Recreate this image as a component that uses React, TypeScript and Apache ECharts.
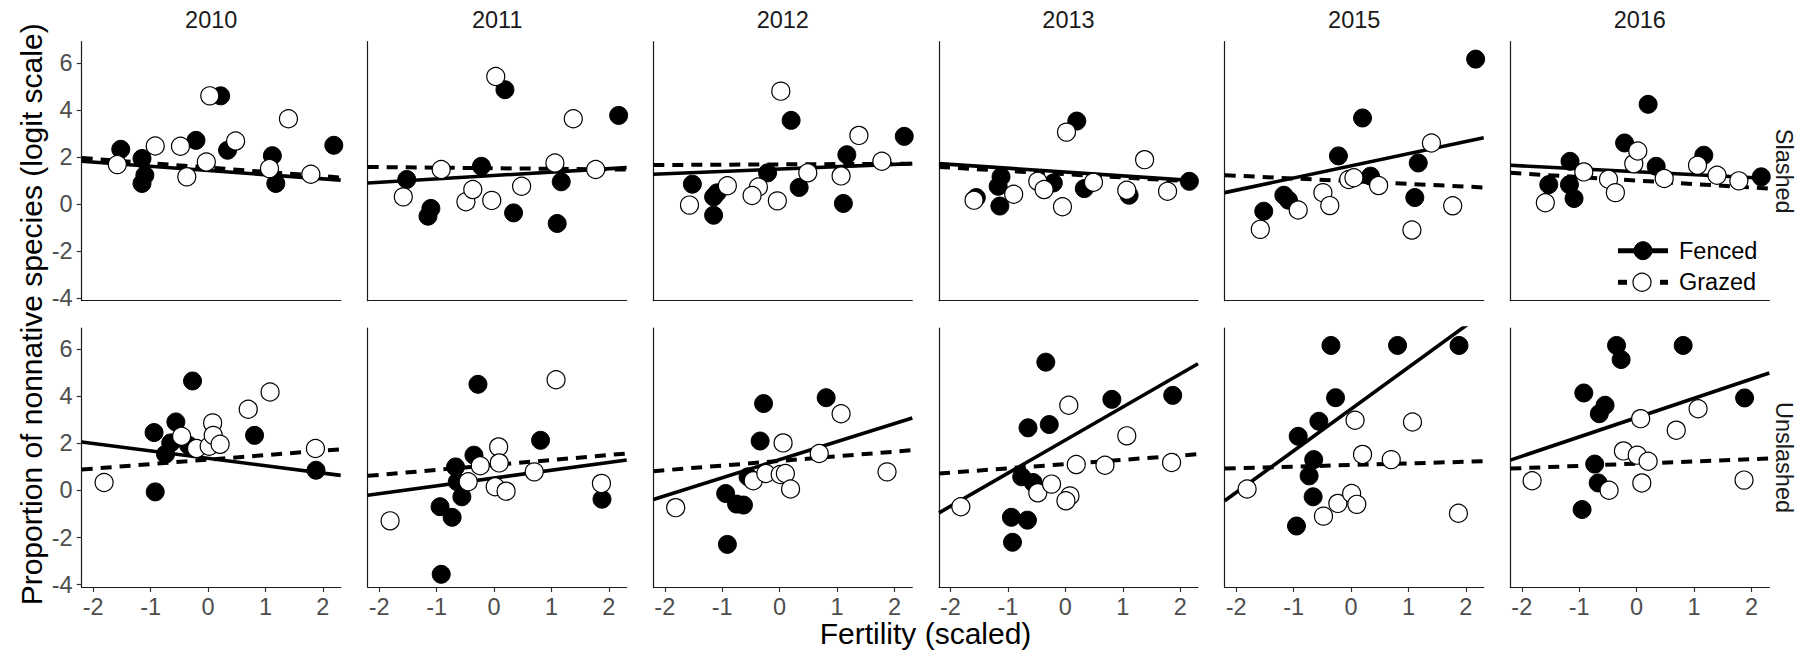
import React, { useEffect, useRef } from 'react';
import * as echarts from 'echarts';

// ---------- data ----------
const years = ['2010', '2011', '2012', '2013', '2015', '2016'];
const rowLabels = ['Slashed', 'Unslashed'];
const xTicks = [-2, -1, 0, 1, 2];
const yTicks = [-4, -2, 0, 2, 4, 6];
const xMin = -2.2;
const xMax = 2.31;
const yMin = -4.1;
const yMax = 6.9;

const slashedFenced2010 = [[-1.52,2.33],[-1.15,1.94],[-1.10,1.23],[-1.15,0.88],[-0.21,2.71],[0.22,4.6],[0.34,2.29],[1.12,2.06],[1.18,0.88],[2.19,2.5]];
const slashedGrazed2010 = [[-1.58,1.68],[-0.92,2.47],[-0.48,2.46],[-0.37,1.16],[-0.03,1.79],[0.03,4.6],[0.48,2.68],[1.07,1.51],[1.40,3.63],[1.79,1.27]];
const slashedFenced2011 = [[-1.52,1.05],[-1.10,-0.18],[-1.15,-0.51],[-0.22,1.61],[0.19,4.86],[0.34,-0.37],[1.17,0.95],[1.10,-0.82],[2.17,3.77]];
const slashedGrazed2011 = [[-1.58,0.31],[-0.92,1.47],[-0.49,0.10],[-0.37,0.62],[-0.04,0.16],[0.03,5.42],[0.48,0.76],[1.06,1.75],[1.38,3.63],[1.77,1.47]];
const slashedFenced2012 = [[-1.52,0.85],[-1.15,0.31],[-1.09,0.48],[-1.15,-0.47],[-0.21,1.33],[0.20,3.56],[0.34,0.71],[1.17,2.10],[1.11,0.03],[2.17,2.88]];
const slashedGrazed2012 = [[-1.57,-0.04],[-0.91,0.78],[-0.37,0.73],[-0.48,0.37],[-0.04,0.14],[0.02,4.8],[0.49,1.33],[1.07,1.20],[1.38,2.92],[1.78,1.82]];
const slashedFenced2013 = [[-1.55,0.28],[-1.12,1.16],[-1.17,0.76],[-1.14,-0.08],[-0.21,0.9],[0.20,3.53],[0.33,0.66],[1.11,0.38],[2.16,0.97]];
const slashedGrazed2013 = [[-1.59,0.17],[-0.90,0.42],[-0.48,0.97],[-0.37,0.62],[-0.05,-0.11],[0.02,3.06],[0.49,0.93],[1.07,0.59],[1.38,1.89],[1.78,0.55]];
const slashedFenced2015 = [[-1.52,-0.30],[-1.17,0.38],[-1.09,0.17],[-0.22,2.05],[0.20,3.66],[0.34,1.19],[1.17,1.75],[1.11,0.28],[2.17,6.16]];
const slashedGrazed2015 = [[-1.58,-1.07],[-0.92,-0.25],[-0.49,0.49],[-0.37,-0.06],[-0.04,1.05],[0.05,1.12],[0.48,0.79],[1.06,-1.10],[1.40,2.60],[1.77,-0.07]];
const slashedFenced2016 = [[-1.53,0.83],[-1.16,1.82],[-1.17,0.83],[-1.09,0.24],[-0.21,2.60],[0.20,4.24],[0.34,1.61],[1.17,2.08],[2.17,1.16]];
const slashedGrazed2016 = [[-1.59,0.06],[-0.92,1.37],[-0.49,1.06],[-0.37,0.49],[-0.05,1.72],[0.02,2.26],[0.48,1.09],[1.06,1.65],[1.40,1.23],[1.78,0.99]];

const unslashedFenced2010 = [[-0.94,2.46],[-0.92,-0.06],[-0.27,4.65],[-0.56,2.91],[-0.65,2.02],[-0.74,1.54],[-0.34,1.92],[0.81,2.34],[1.88,0.86]];
const unslashedGrazed2010 = [[-1.81,0.34],[-0.46,2.30],[-0.20,1.78],[0.02,1.88],[0.08,2.87],[0.09,2.34],[0.21,1.96],[0.70,3.45],[1.08,4.18],[1.87,1.78]];
const unslashedFenced2011 = [[-0.28,4.51],[-0.35,1.50],[-0.67,1.00],[-0.64,0.37],[-0.56,-0.27],[-0.94,-0.69],[-0.73,-1.14],[-0.92,-3.56],[0.81,2.13],[1.88,-0.37]];
const unslashedGrazed2011 = [[-1.81,-1.29],[-0.45,0.37],[-0.24,1.05],[0.08,1.85],[0.09,1.17],[0.02,0.16],[0.21,-0.03],[0.70,0.79],[1.08,4.70],[1.87,0.30]];
const unslashedFenced2012 = [[-0.28,3.69],[-0.34,2.10],[-0.55,0.58],[-0.94,-0.13],[-0.75,-0.58],[-0.63,-0.62],[-0.91,-2.29],[0.81,3.94]];
const unslashedGrazed2012 = [[-1.81,-0.73],[-0.46,0.41],[-0.24,0.72],[0.01,0.68],[0.10,0.72],[0.06,2.02],[0.19,0.06],[0.69,1.57],[1.07,3.26],[1.87,0.79]];
const unslashedFenced2013 = [[-0.34,5.45],[-0.65,2.66],[-0.28,2.80],[-0.76,0.58],[-0.56,0.34],[-0.94,-1.14],[-0.66,-1.26],[-0.92,-2.20],[0.81,3.87],[1.87,4.04]];
const unslashedGrazed2013 = [[-1.82,-0.69],[-0.48,-0.10],[-0.24,0.27],[0.08,-0.23],[0.01,-0.44],[0.06,3.62],[0.19,1.10],[0.69,1.07],[1.07,2.32],[1.85,1.19]];
const unslashedFenced2015 = [[-0.35,6.16],[0.81,6.16],[1.88,6.16],[-0.27,3.94],[-0.56,2.94],[-0.92,2.30],[-0.65,1.31],[-0.73,0.62],[-0.66,-0.27],[-0.95,-1.51]];
const unslashedGrazed2015 = [[-1.81,0.06],[-0.48,-1.09],[-0.23,-0.55],[0.01,-0.13],[0.10,-0.59],[0.07,2.98],[0.20,1.53],[0.70,1.31],[1.07,2.91],[1.87,-0.97]];
const unslashedFenced2016 = [[-0.35,6.16],[-0.27,5.56],[0.81,6.16],[-0.92,4.14],[-0.55,3.62],[-0.65,3.26],[1.88,3.93],[-0.73,1.12],[-0.67,0.32],[-0.95,-0.81]];
const unslashedGrazed2016 = [[-1.82,0.41],[-0.48,0.01],[-0.23,1.68],[0.01,1.50],[0.20,1.24],[0.09,0.32],[0.07,3.05],[0.69,2.56],[1.07,3.47],[1.87,0.44]];

// fitted line: [y at xMin, y at xMax] per year
const fitFencedSlashed = [[1.82,1.02],[0.90,1.55],[1.27,1.72],[1.72,0.99],[0.49,2.82],[1.65,1.09]];
const fitGrazedSlashed = [[1.96,1.13],[1.58,1.47],[1.66,1.72],[1.58,0.95],[1.23,0.71],[1.33,0.66]];
const fitFencedUnslashed = [[2.06,0.64],[-0.20,1.29],[-0.38,3.08],[-0.95,5.38],[-0.44,7.55],[1.29,4.99]];
const fitGrazedUnslashed = [[0.89,1.75],[0.62,1.57],[0.82,1.71],[0.72,1.54],[0.93,1.24],[0.93,1.36]];

const fencedPoints = [
  [slashedFenced2010, slashedFenced2011, slashedFenced2012, slashedFenced2013, slashedFenced2015, slashedFenced2016],
  [unslashedFenced2010, unslashedFenced2011, unslashedFenced2012, unslashedFenced2013, unslashedFenced2015, unslashedFenced2016],
];
const grazedPoints = [
  [slashedGrazed2010, slashedGrazed2011, slashedGrazed2012, slashedGrazed2013, slashedGrazed2015, slashedGrazed2016],
  [unslashedGrazed2010, unslashedGrazed2011, unslashedGrazed2012, unslashedGrazed2013, unslashedGrazed2015, unslashedGrazed2016],
];
const fitsFenced = [fitFencedSlashed, fitFencedUnslashed];
const fitsGrazed = [fitGrazedSlashed, fitGrazedUnslashed];

// ---------- layout ----------
const W = 1798;
const H = 656;
const panelLefts = [81.7, 367.7, 653.3, 939, 1224.7, 1510.3];
const panelTops = [41.7, 328];
const panelW = 259;
const panelH = 259;
const FONT = '"Liberation Sans", Arial, sans-serif';
const SMALL = 23.5;
const BIG = 30;

export default function App() {
  const ref = useRef<HTMLDivElement>(null);

  useEffect(() => {
    if (!ref.current) return;
    const chart = echarts.init(ref.current, null, { renderer: 'svg' });

    const grid: any[] = [];
    const xAxis: any[] = [];
    const yAxis: any[] = [];
    const series: any[] = [];

    for (let r = 0; r < 2; r++) {
      for (let c = 0; c < 6; c++) {
        const idx = r * 6 + c;
        grid.push({ left: panelLefts[c], top: panelTops[r], width: panelW, height: panelH });
        xAxis.push({
          gridIndex: idx,
          type: 'value',
          min: xMin,
          max: xMax,
          axisLine: { show: true, onZero: false, lineStyle: { color: '#1a1a1a', width: 1.2 } },
          axisTick: { show: r === 1, length: 5, customValues: xTicks, lineStyle: { color: '#333', width: 1.2 } },
          axisLabel: {
            show: r === 1,
            customValues: xTicks,
            margin: 8,
            color: '#4d4d4d',
            fontSize: SMALL,
            fontFamily: FONT,
          },
          splitLine: { show: false },
        });
        yAxis.push({
          gridIndex: idx,
          type: 'value',
          min: yMin,
          max: yMax,
          axisLine: { show: true, onZero: false, lineStyle: { color: '#1a1a1a', width: 1.2 } },
          axisTick: { show: c === 0, length: 5, customValues: yTicks, lineStyle: { color: '#333', width: 1.2 } },
          axisLabel: {
            show: c === 0,
            customValues: yTicks,
            margin: 9,
            color: '#4d4d4d',
            fontSize: SMALL,
            fontFamily: FONT,
          },
          splitLine: { show: false },
        });

        const ff = fitsFenced[r][c];
        const fg = fitsGrazed[r][c];
        series.push({
          type: 'line',
          xAxisIndex: idx,
          yAxisIndex: idx,
          data: [[xMin, fg[0]], [xMax, fg[1]]],
          showSymbol: false,
          clip: true,
          z: 2,
          lineStyle: { color: '#000', width: 4, type: [11, 8] },
        });
        series.push({
          type: 'line',
          xAxisIndex: idx,
          yAxisIndex: idx,
          data: [[xMin, ff[0]], [xMax, ff[1]]],
          showSymbol: false,
          clip: true,
          z: 2,
          lineStyle: { color: '#000', width: 3.6, type: 'solid' },
        });
        series.push({
          type: 'scatter',
          name: 'Fenced',
          xAxisIndex: idx,
          yAxisIndex: idx,
          data: fencedPoints[r][c],
          symbol: 'circle',
          symbolSize: 18,
          z: 3,
          itemStyle: { color: '#000', borderColor: '#000', borderWidth: 1, opacity: 1 },
        });
        series.push({
          type: 'scatter',
          name: 'Grazed',
          xAxisIndex: idx,
          yAxisIndex: idx,
          data: grazedPoints[r][c],
          symbol: 'circle',
          symbolSize: 18,
          z: 4,
          itemStyle: { color: '#fff', borderColor: '#000', borderWidth: 1.2, opacity: 1 },
        });
      }
    }

    const graphic: any[] = [];
    years.forEach((y, c) => {
      graphic.push({
        type: 'text',
        x: panelLefts[c] + panelW / 2,
        y: 19.5,
        style: { text: y, font: `${SMALL}px ${FONT}`, fill: '#1a1a1a', align: 'center', verticalAlign: 'middle' },
      });
    });
    rowLabels.forEach((t, r) => {
      graphic.push({
        type: 'text',
        x: 1784,
        y: panelTops[r] + panelH / 2,
        rotation: -Math.PI / 2,
        style: { text: t, font: `${SMALL}px ${FONT}`, fill: '#1a1a1a', align: 'center', verticalAlign: 'middle' },
      });
    });
    graphic.push({
      type: 'text',
      x: 31,
      y: (panelTops[0] + panelTops[1] + panelH) / 2,
      rotation: Math.PI / 2,
      style: {
        text: 'Proportion of nonnative species (logit scale)',
        font: `${BIG}px ${FONT}`,
        fill: '#000',
        align: 'center',
        verticalAlign: 'middle',
      },
    });
    graphic.push({
      type: 'text',
      x: (panelLefts[0] + panelLefts[5] + panelW) / 2,
      y: 633,
      style: { text: 'Fertility (scaled)', font: `${BIG}px ${FONT}`, fill: '#000', align: 'center', verticalAlign: 'middle' },
    });

    // legend
    const lgY1 = 250.7;
    const lgY2 = 282.3;
    graphic.push({ type: 'line', shape: { x1: 1618, y1: lgY1, x2: 1668, y2: lgY1 }, style: { stroke: '#000', lineWidth: 5 }, z: 10 });
    graphic.push({ type: 'circle', shape: { cx: 1643, cy: lgY1, r: 9 }, style: { fill: '#000', stroke: '#000', lineWidth: 1 }, z: 11 });
    graphic.push({ type: 'line', shape: { x1: 1618, y1: lgY2, x2: 1627, y2: lgY2 }, style: { stroke: '#000', lineWidth: 5 }, z: 10 });
    graphic.push({ type: 'line', shape: { x1: 1660, y1: lgY2, x2: 1668, y2: lgY2 }, style: { stroke: '#000', lineWidth: 5 }, z: 10 });
    graphic.push({ type: 'circle', shape: { cx: 1642, cy: lgY2, r: 9 }, style: { fill: '#fff', stroke: '#000', lineWidth: 1.2 }, z: 11 });
    graphic.push({
      type: 'text', x: 1679, y: lgY1, z: 11,
      style: { text: 'Fenced', font: `${SMALL}px ${FONT}`, fill: '#000', align: 'left', verticalAlign: 'middle' },
    });
    graphic.push({
      type: 'text', x: 1679, y: lgY2, z: 11,
      style: { text: 'Grazed', font: `${SMALL}px ${FONT}`, fill: '#000', align: 'left', verticalAlign: 'middle' },
    });

    chart.setOption({
      animation: false,
      backgroundColor: '#fff',
      grid,
      xAxis,
      yAxis,
      series,
      graphic,
    });

    return () => chart.dispose();
  }, []);

  return (
    <div
      ref={ref}
      style={{ position: 'absolute', left: 0, top: 0, width: W, height: H }}
    />
  );
}
